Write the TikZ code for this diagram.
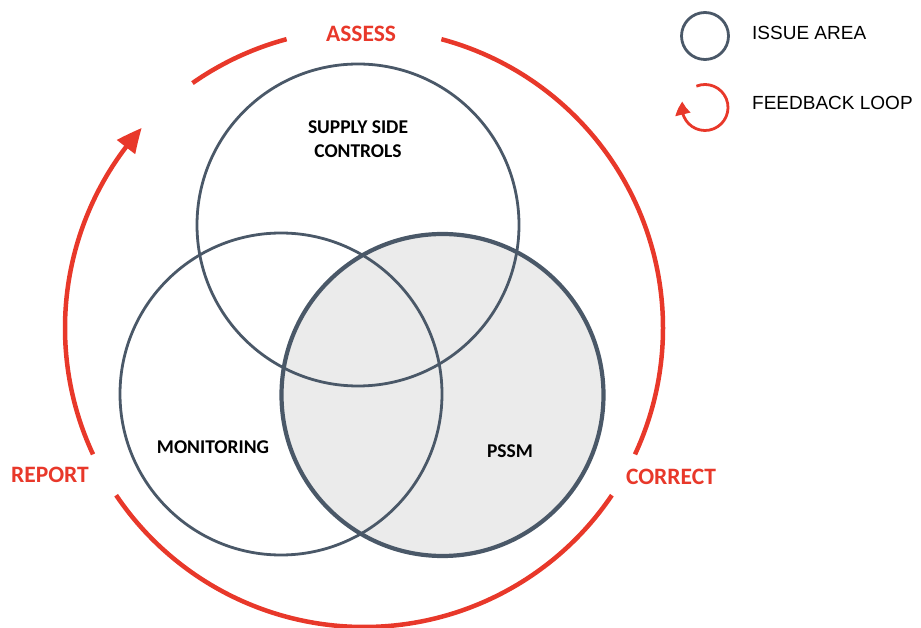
\documentclass[tikz,border=0pt]{standalone}
\usepackage{fontspec}
\setmainfont{Carlito}
\newfontfamily\legendfont{Liberation Sans}
\usetikzlibrary{arrows.meta,bending}
\definecolor{loopred}{RGB}{232,56,42}
\definecolor{issuegrey}{RGB}{74,88,104}
\definecolor{pssmfill}{RGB}{235,235,235}
\begin{document}
\begin{tikzpicture}[x=1pt,y=1pt,
  issue/.style={draw=issuegrey,line width=2.8pt},
  issuethick/.style={draw=issuegrey,line width=4.2pt},
  loopline/.style={draw=loopred,line width=4.5pt},
  looptip/.style={-{Triangle[length=25pt,width=22pt,bend]}},
  area/.style={font=\bfseries\fontsize{19.5}{23.5}\selectfont,text=black,align=center},
  phase/.style={font=\bfseries\fontsize{23.5}{28}\selectfont,text=loopred},
  legendtext/.style={font=\legendfont\fontsize{19}{22}\selectfont,anchor=west,inner sep=0pt}]
\useasboundingbox (0,0) rectangle (921,627);
\coordinate (C) at (364,299);
\coordinate (S) at (358,402);
\coordinate (M) at (281,233);
\coordinate (P) at (442.5,232);
% PSSM fill
\fill[pssmfill] (P) circle[radius=161];
% issue circles
\draw[issue] (S) circle[radius=161];
\draw[issue] (M) circle[radius=161];
\draw[issuethick] (P) circle[radius=161];
% feedback loop arcs
\draw[loopline] ([shift={(105:299)}]C) arc[start angle=105,end angle=125,radius=299];
\draw[loopline,looptip] ([shift={(205:299)}]C) arc[start angle=205,end angle=138,radius=299];
\draw[loopline] ([shift={(75:299)}]C) arc[start angle=75,end angle=-25,radius=299];
\draw[loopline] ([shift={(-34:299)}]C) arc[start angle=-34,end angle=-146,radius=299];
% labels
\node[area] (supplylbl) at (358,488) {SUPPLY SIDE\\CONTROLS};
\node[area] (monlbl) at (213,180) {MONITORING};
\node[area] (pssmlbl) at (510,176) {PSSM};
\node[phase] (assess) at (361,593) {ASSESS};
\node[phase] (report) at (50,152) {REPORT};
\node[phase] (correct) at (671,150) {CORRECT};
% legend
\coordinate (L1) at (705,591);
\coordinate (L2) at (705,519.5);
\draw[issue] (L1) circle[radius=23.5];
\node[legendtext] (issuelbl) at (752,594) {ISSUE AREA};
\draw[draw=loopred,line width=2.8pt,-{Triangle[length=13pt,width=15pt,bend]}] ([shift={(112:23)}]L2) arc[start angle=112,end angle=-195,radius=23];
\node[legendtext] (looplbl) at (752,524) {FEEDBACK LOOP};
\end{tikzpicture}
\end{document}
